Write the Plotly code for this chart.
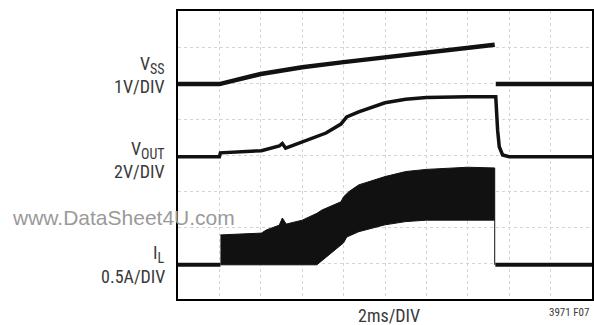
import plotly.graph_objects as go

# scope capture, x in ms (2ms/DIV, 10 divisions), y in divisions (8 divisions)

# V_SS trace (1V/DIV)
vss_t = [0, 2.0, 4.0, 6.0, 8.0, 10.0, 12.0, 14.0, 15.3, None, 15.35, 20]
vss_y = [5.97, 5.97, 6.25, 6.44, 6.58, 6.72, 6.86, 7.0, 7.06, None, 5.97, 5.97]

# V_OUT trace (2V/DIV)
vout_t = [0, 2.0, 2.05, 4.03, 4.89, 5.04, 5.2, 6.0, 7.15, 7.87, 8.0, 8.15,
          8.73, 10.0, 11.0, 12.0, 14.0, 15.3, 15.35, 15.44, 15.52, 15.68, 16.0, 20]
vout_y = [3.95, 3.95, 4.06, 4.12, 4.25, 4.32, 4.19, 4.37, 4.61, 4.86, 4.95, 5.06,
          5.2, 5.45, 5.55, 5.6, 5.62, 5.62, 5.62, 4.69, 4.23, 4.0, 3.95, 3.95]

# I_L (0.5A/DIV): baseline plus ripple envelope while switching
il_base = 0.95
il_t_off1 = [0, 2.05]
il_t_off2 = [15.33, 20]
band_t = [2.05, 4.03, 4.27, 4.89, 5.04, 5.23, 6.0, 6.71, 6.95, 7.43, 7.87, 8.0,
          8.15, 8.25, 8.73, 10.0, 11.0, 12.0, 14.0, 15.3]
band_top = [1.78, 1.83, 1.92, 2.05, 2.25, 2.08, 2.19, 2.38, 2.47, 2.58, 2.7, 2.84,
            2.92, 2.98, 3.17, 3.4, 3.54, 3.6, 3.66, 3.64]
band_bot = [0.95, 0.95, 0.95, 0.95, 0.95, 0.95, 0.95, 0.95, 1.05, 1.28, 1.5, 1.56,
            1.72, 1.75, 1.87, 2.06, 2.15, 2.19, 2.19, 2.19]

FONT = "Liberation Sans Narrow, Roboto Condensed, Arial Narrow, Liberation Sans, sans-serif"
SUB = "<sub><span style='font-size:14px'>%s</span></sub>"
TXT = "#3a3a3a"

fig = go.Figure()

fig.add_trace(go.Scatter(x=band_t + band_t[::-1], y=band_top + band_bot[::-1],
                         fill="toself", fillcolor="#111111", mode="lines",
                         line=dict(color="#111111", width=1)))
fig.add_trace(go.Scatter(x=il_t_off1 + [None] + il_t_off2,
                         y=[il_base] * 2 + [None] + [il_base] * 2,
                         mode="lines", line=dict(color="#111111", width=4)))
fig.add_trace(go.Scatter(x=[band_t[-1], band_t[-1]], y=[band_bot[-1], il_base],
                         mode="lines", line=dict(color="#111111", width=1)))
fig.add_trace(go.Scatter(x=vout_t, y=vout_y, mode="lines",
                         line=dict(color="#111111", width=3.5)))
fig.add_trace(go.Scatter(x=vss_t, y=vss_y, mode="lines",
                         line=dict(color="#111111", width=4.5)))

axis_common = dict(showgrid=True, gridcolor="#d4d4d4", griddash="dot", gridwidth=1,
                   showline=True, linecolor="black", linewidth=1.5, mirror=True,
                   zeroline=False, showticklabels=False, ticks="")
fig.update_xaxes(range=[0, 20], dtick=2, **axis_common)
fig.update_yaxes(range=[0, 8], dtick=1, **axis_common)

labels = [
    ("V" + SUB % "SS", 65), ("1V/DIV", 87),
    ("V" + SUB % "OUT", 150), ("2V/DIV", 171),
    ("I" + SUB % "L", 254), ("0.5A/DIV", 276),
]
for txt, ypx in labels:
    fig.add_annotation(text=txt, xref="paper", yref="paper",
                       x=(167 - 178) / 416, y=(299 - ypx) / 288,
                       xanchor="right", yanchor="middle", showarrow=False,
                       font=dict(family=FONT, size=18, color=TXT))

fig.add_annotation(text="2ms/DIV", xref="paper", yref="paper",
                   x=(390 - 178) / 416, y=(299 - 315) / 288,
                   xanchor="center", yanchor="middle", showarrow=False,
                   font=dict(family=FONT, size=18, color=TXT))
fig.add_annotation(text="3971 F07", xref="paper", yref="paper",
                   x=(593 - 178) / 416, y=(299 - 312) / 288,
                   xanchor="right", yanchor="middle", showarrow=False,
                   font=dict(family=FONT, size=11, color=TXT))
fig.add_annotation(text="www.DataSheet4U.com", xref="paper", yref="paper",
                   x=(9 - 178) / 416, y=(299 - 217) / 288,
                   xanchor="left", yanchor="middle", showarrow=False,
                   font=dict(family="Liberation Sans, Arial, sans-serif", size=21,
                             color="#9a9a9a"))

fig.update_layout(width=594, height=325, showlegend=False,
                  margin=dict(l=178, r=0, t=11, b=26),
                  paper_bgcolor="white", plot_bgcolor="white")

fig.write_html("out.html", config={"displayModeBar": False},
               post_script="document.body.style.margin='0px';")
